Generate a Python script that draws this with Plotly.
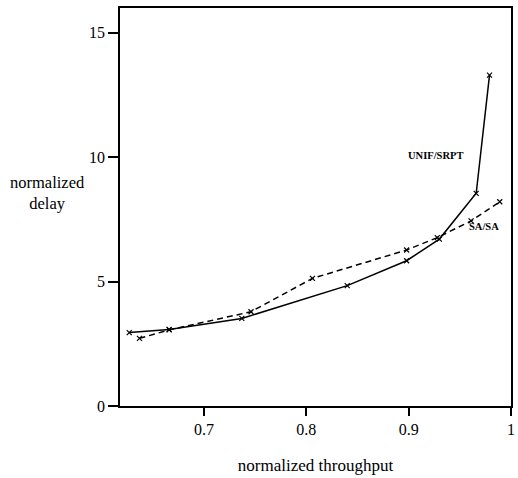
import plotly.graph_objects as go

# Normalized throughput vs. normalized delay for two schemes
unif_srpt_x = [0.627, 0.666, 0.737, 0.840, 0.898, 0.930, 0.966, 0.979]
unif_srpt_y = [2.95, 3.08, 3.52, 4.84, 5.84, 6.71, 8.55, 13.3]

sa_sa_x = [0.637, 0.666, 0.746, 0.806, 0.898, 0.928, 0.961, 0.989]
sa_sa_y = [2.72, 3.06, 3.79, 5.13, 6.27, 6.77, 7.44, 8.21]

x_ticks = [0.7, 0.8, 0.9, 1.0]
x_tick_text = ["0.7", "0.8", "0.9", "1"]
y_ticks = [0, 5, 10, 15]

FONT = "Liberation Serif"

fig = go.Figure()
fig.add_trace(go.Scatter(
    x=unif_srpt_x, y=unif_srpt_y, mode="lines+markers",
    line=dict(color="black", width=1.5),
    marker=dict(symbol="x-thin", size=5, line=dict(color="black", width=1.2)),
    name="UNIF/SRPT",
))
fig.add_trace(go.Scatter(
    x=sa_sa_x, y=sa_sa_y, mode="lines+markers",
    line=dict(color="black", width=1.5, dash="6px,4px"),
    marker=dict(symbol="x-thin", size=5, line=dict(color="black", width=1.2)),
    name="SA/SA",
))

fig.add_annotation(x=0.9264, y=10.07, text="<b>UNIF/SRPT</b>", showarrow=False,
                   font=dict(family=FONT, size=10.5, color="black"))
fig.add_annotation(x=0.9736, y=7.2, text="<b>SA/SA</b>", showarrow=False,
                   font=dict(family=FONT, size=10.5, color="black"))

fig.add_annotation(xref="paper", yref="paper", x=-0.185, y=0.535,
                   text="normalized<br>delay", showarrow=False,
                   xanchor="center", yanchor="middle", align="center",
                   font=dict(family=FONT, size=16.5, color="black"))

fig.update_layout(
    width=518, height=478,
    margin=dict(l=120, r=3, t=8, b=72),
    paper_bgcolor="white", plot_bgcolor="white",
    showlegend=False,
    font=dict(family=FONT, size=16, color="black"),
    xaxis=dict(
        range=[0.618, 1.0], tickvals=x_ticks, ticktext=x_tick_text,
        ticks="outside", ticklen=8, tickwidth=1.5, tickcolor="black",
        showline=True, linecolor="black", linewidth=1.5, mirror=True,
        showgrid=False, zeroline=False,
        title=dict(text="normalized throughput", standoff=22,
                   font=dict(family=FONT, size=17)),
    ),
    yaxis=dict(
        range=[0, 16], tickvals=y_ticks,
        ticks="outside", ticklen=10, tickwidth=1.5, tickcolor="black",
        showline=True, linecolor="black", linewidth=1.5, mirror=True,
        showgrid=False, zeroline=False,
    ),
)

fig.write_html("out.html")
